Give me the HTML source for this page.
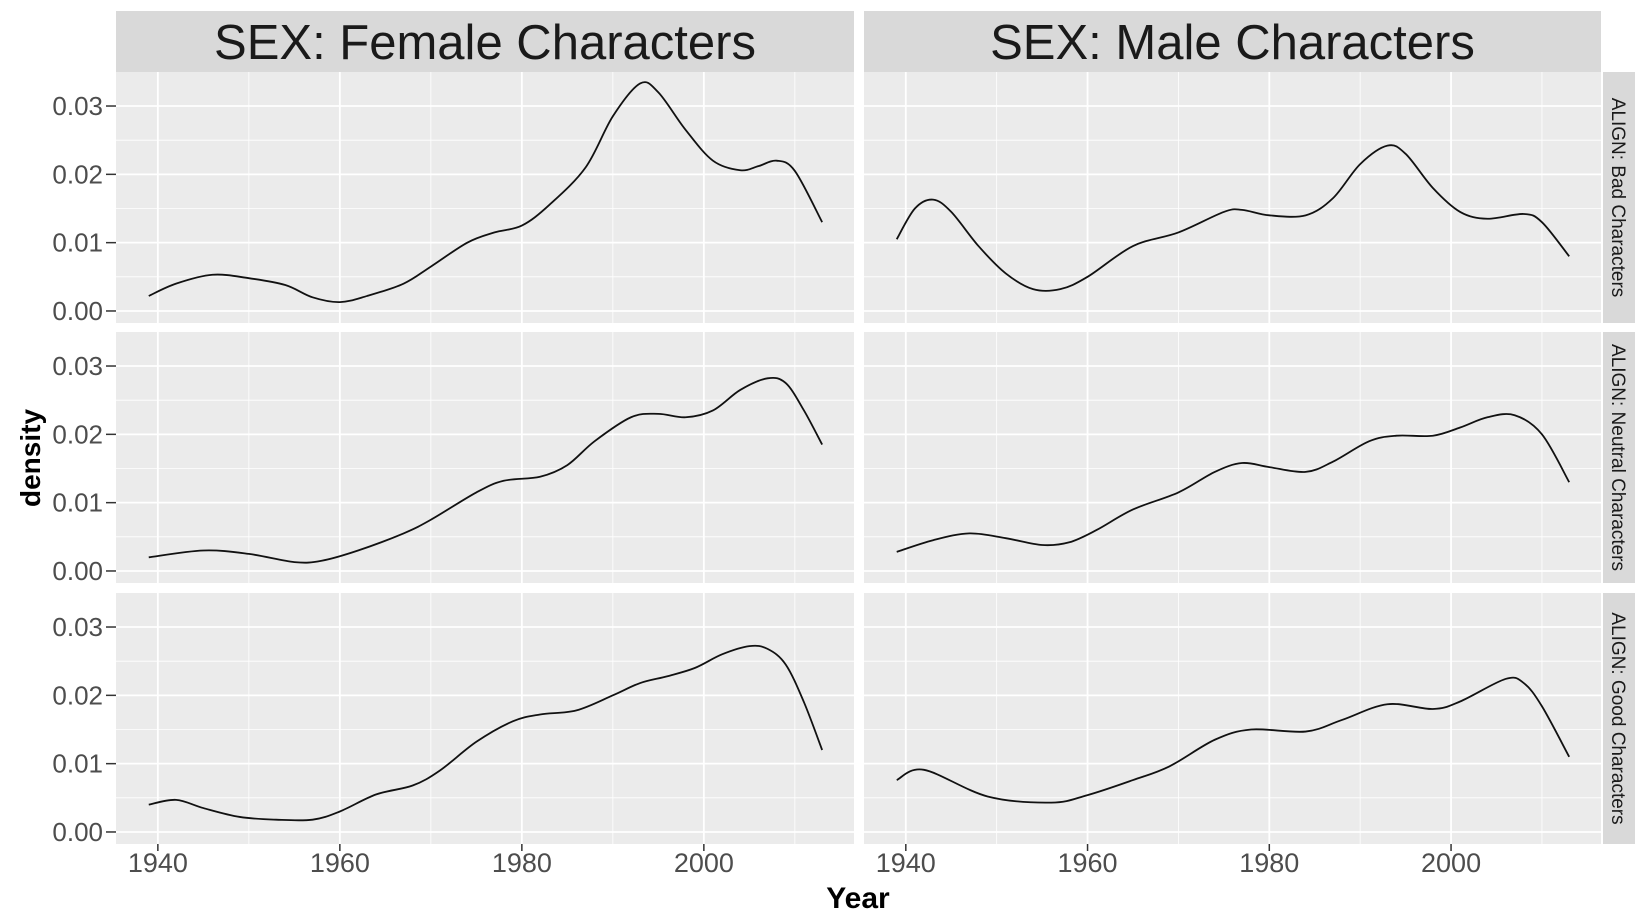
<!DOCTYPE html>
<html><head><meta charset="utf-8"><style>
html,body{margin:0;padding:0;background:#fff;}
svg{display:block;font-family:"Liberation Sans",sans-serif;}
</style></head><body>
<svg id="chart" width="1646" height="921"></svg>
<script>
const years = {
 fb:[1939,1942,1946,1950,1954,1957,1960,1963,1967,1970,1974,1977,1980,1983,1987,1990,1993,1995,1998,2001,2004,2006,2008,2010,2013],
 mb:[1939,1941,1943,1945,1948,1951,1954,1957,1960,1965,1970,1975,1977,1980,1984,1987,1990,1993,1995,1998,2001,2004,2008,2010,2013],
 fn:[1939,1945,1950,1955,1958,1962,1967,1970,1975,1978,1982,1985,1988,1992,1995,1998,2001,2004,2007,2009,2011,2013],
 mn:[1939,1943,1947,1951,1955,1958,1961,1965,1970,1974,1977,1980,1984,1987,1991,1994,1998,2001,2004,2007,2010,2013],
 fg:[1939,1942,1945,1949,1953,1957,1960,1964,1968,1971,1975,1979,1982,1986,1990,1993,1996,1999,2002,2005,2007,2009,2011,2013],
 mg:[1939,1942,1949,1956,1960,1965,1969,1974,1978,1984,1988,1993,1998,2001,2006,2008,2010,2013]
};
const femaleBad=[.0022,.0040,.0053,.0048,.0038,.0020,.0013,.0022,.0040,.0065,.0100,.0115,.0125,.0155,.0210,.0285,.0333,.0320,.0265,.0220,.0206,.0212,.0220,.0205,.0130];
const maleBad=[.0105,.0150,.0163,.0145,.0095,.0055,.0032,.0032,.0050,.0095,.0115,.0145,.0148,.0140,.0140,.0165,.0215,.0242,.0230,.0180,.0145,.0135,.0142,.0130,.0080];
const femaleNeutral=[.0020,.0030,.0025,.0013,.0015,.0030,.0055,.0075,.0115,.0132,.0138,.0155,.0190,.0225,.0230,.0225,.0235,.0265,.0282,.0275,.0235,.0185];
const maleNeutral=[.0028,.0045,.0055,.0048,.0038,.0042,.0060,.0090,.0115,.0145,.0158,.0152,.0145,.0160,.0190,.0198,.0198,.0210,.0225,.0228,.0200,.0130];
const femaleGood=[.0040,.0047,.0035,.0022,.0018,.0018,.0030,.0055,.0068,.0090,.0132,.0162,.0172,.0178,.0200,.0218,.0228,.0240,.0260,.0272,.0268,.0245,.0190,.0120];
const maleGood=[.0076,.0091,.0052,.0043,.0054,.0076,.0096,.0135,.0150,.0147,.0164,.0187,.0180,.0191,.0224,.0218,.0184,.0110];
const xTicks=[1940,1960,1980,2000];
const yTicks=[0,0.01,0.02,0.03];
const yTickLabels=["0.00","0.01","0.02","0.03"];
const colTitles=["SEX: Female Characters","SEX: Male Characters"];
const rowTitles=["ALIGN: Bad Characters","ALIGN: Neutral Characters","ALIGN: Good Characters"];

const svg=document.getElementById('chart');
const NS='http://www.w3.org/2000/svg';
function mk(tag,attrs,parent){const e=document.createElementNS(NS,tag);for(const k in attrs)e.setAttribute(k,attrs[k]);(parent||svg).appendChild(e);return e;}
const cols=[{x:116,w:738},{x:864,w:737}];
const rows=[{y:72},{y:332},{y:593}];
const PH=251;
const X0=1935.4,X1=2016.5,Y0=-0.00176,Y1=0.03498;
function sx(c,v){return cols[c].x+(v-X0)/(X1-X0)*cols[c].w;}
function sy(r,v){return rows[r].y+PH-(v-Y0)/(Y1-Y0)*PH;}
const series=[[ [years.fb,femaleBad],[years.mb,maleBad] ],[ [years.fn,femaleNeutral],[years.mn,maleNeutral] ],[ [years.fg,femaleGood],[years.mg,maleGood] ]];
const minorX=[1950,1970,1990,2010];
const minorY=[0.005,0.015,0.025];

for(let r=0;r<3;r++){for(let c=0;c<2;c++){
 const g=mk('g',{});
 
 
 mk('rect',{x:cols[c].x,y:rows[r].y,width:cols[c].w,height:PH,fill:'#ebebeb'},g);
 minorX.forEach(v=>mk('line',{x1:sx(c,v),x2:sx(c,v),y1:rows[r].y,y2:rows[r].y+PH,stroke:'#fff','stroke-width':0.8},g));
 minorY.forEach(v=>mk('line',{x1:cols[c].x,x2:cols[c].x+cols[c].w,y1:sy(r,v),y2:sy(r,v),stroke:'#fff','stroke-width':0.8},g));
 xTicks.forEach(v=>mk('line',{x1:sx(c,v),x2:sx(c,v),y1:rows[r].y,y2:rows[r].y+PH,stroke:'#fff','stroke-width':1.8},g));
 yTicks.forEach(v=>mk('line',{x1:cols[c].x,x2:cols[c].x+cols[c].w,y1:sy(r,v),y2:sy(r,v),stroke:'#fff','stroke-width':1.8},g));
 const [xs,ys]=series[r][c];
 const pts=xs.map((x,i)=>[sx(c,x),sy(r,ys[i])]);
 let d='M'+pts[0][0]+','+pts[0][1];
 for(let i=0;i<pts.length-1;i++){
  const p0=pts[Math.max(0,i-1)],p1=pts[i],p2=pts[i+1],p3=pts[Math.min(pts.length-1,i+2)];
  const c1=[p1[0]+(p2[0]-p0[0])/6,p1[1]+(p2[1]-p0[1])/6],c2=[p2[0]-(p3[0]-p1[0])/6,p2[1]-(p3[1]-p1[1])/6];
  d+=' C'+c1+' '+c2+' '+p2;
 }
 const line=mk('path',{d:d,fill:'none',stroke:'#111','stroke-width':1.8},g);
 
 
}}
for(let r=0;r<3;r++){
 yTicks.forEach((v,i)=>{
  mk('line',{x1:106,x2:116,y1:sy(r,v),y2:sy(r,v),stroke:'#333','stroke-width':1.5});
  const t=mk('text',{x:103,y:sy(r,v)+9,'text-anchor':'end','font-size':26,fill:'#4d4d4d'});
  t.textContent=yTickLabels[i];
  
  
 });
}
for(let c=0;c<2;c++){
 xTicks.forEach(v=>{
  mk('line',{x1:sx(c,v),x2:sx(c,v),y1:844,y2:851,stroke:'#333','stroke-width':1.5});
  const t=mk('text',{x:sx(c,v),y:872,'text-anchor':'middle','font-size':27,fill:'#4d4d4d'});
  t.textContent=v;
  
  
 });
 mk('rect',{x:cols[c].x,y:11,width:cols[c].w,height:61,fill:'#d9d9d9'});
 const t=mk('text',{x:cols[c].x+cols[c].w/2,y:59,'text-anchor':'middle','font-size':49,fill:'#1a1a1a'});
 t.textContent=colTitles[c];
 
 
}
for(let r=0;r<3;r++){
 mk('rect',{x:1603,y:rows[r].y,width:32,height:PH,fill:'#d9d9d9'});
 const cy=rows[r].y+PH/2;
 const t=mk('text',{x:1612,y:cy,'text-anchor':'middle','font-size':19,fill:'#1a1a1a',transform:'rotate(90 1612 '+cy+')'});
 t.textContent=rowTitles[r];
 
 
}
const xt=mk('text',{x:858,y:908,'text-anchor':'middle','font-size':30,'font-weight':'bold',fill:'#000'});
xt.textContent='Year';


const yt=mk('text',{x:40,y:458,'text-anchor':'middle','font-size':28,'font-weight':'bold',fill:'#000',transform:'rotate(-90 40 458)'});
yt.textContent='density';


</script>
</body></html>
